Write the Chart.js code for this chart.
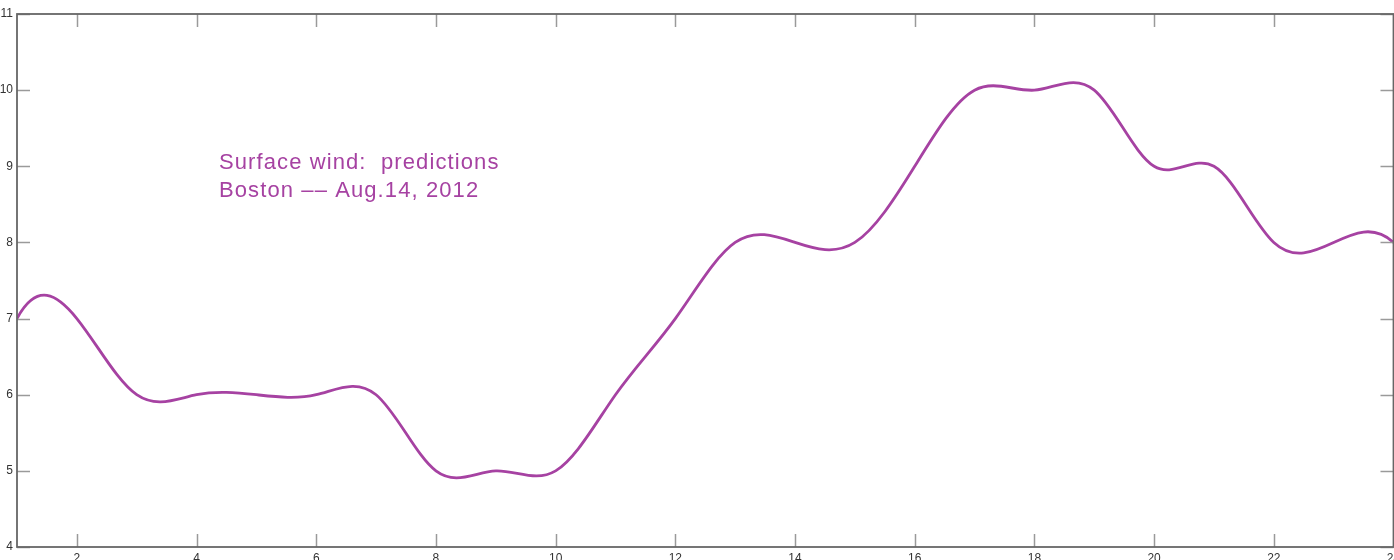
<!DOCTYPE html>
<html>
<head>
<meta charset="utf-8">
<script src="https://cdn.jsdelivr.net/npm/chart.js@4.4.1/dist/chart.umd.min.js"></script>
<style>
  html, body { margin: 0; padding: 0; background: #fff; overflow: hidden; }
  #wrap { width: 1394px; height: 560px; overflow: hidden; position: relative; }
  #c { position: absolute; left: 0; top: 0; }
</style>
</head>
<body>
<div id="wrap"><canvas id="c" width="1400" height="570"></canvas></div>
<script>
// Hourly surface wind predictions, Boston, Aug. 14 2012
const hours = [1, 2, 3, 4, 5, 6, 7, 8, 9, 10, 11, 12, 13, 14, 15, 16, 17, 18, 19, 20, 21, 22, 23, 24];
const windSpeed = [7, 7, 6, 6, 6, 6, 6, 5, 5, 5, 6, 7, 8, 8, 8, 9, 10, 10, 10, 9, 9, 8, 8, 8];
const xTickValues = [2, 4, 6, 8, 10, 12, 14, 16, 18, 20, 22, 24];
const yTickValues = [4, 5, 6, 7, 8, 9, 10, 11];
const titleLines = ['Surface wind:  predictions', 'Boston \u2013\u2013 Aug.14, 2012'];
const titleAnchor = { x: 4.375, y: 8.97 };

const curveColor = 'rgb(166, 66, 162)';
const frameColor = '#666666';
const tickColor = '#9a9a9a';

// Not-a-knot cubic spline: returns the first derivative at each knot
function splineSlopes(x, y) {
  const n = x.length;
  const h = [];
  for (let i = 0; i < n - 1; i++) h.push(x[i + 1] - x[i]);
  const A = [], b = [];
  for (let r = 0; r < n; r++) { A.push(new Array(n).fill(0)); b.push(0); }
  A[0][0] = h[1]; A[0][1] = -(h[0] + h[1]); A[0][2] = h[0];
  for (let i = 1; i < n - 1; i++) {
    A[i][i - 1] = h[i - 1];
    A[i][i] = 2 * (h[i - 1] + h[i]);
    A[i][i + 1] = h[i];
    b[i] = 6 * ((y[i + 1] - y[i]) / h[i] - (y[i] - y[i - 1]) / h[i - 1]);
  }
  A[n - 1][n - 3] = h[n - 2]; A[n - 1][n - 2] = -(h[n - 3] + h[n - 2]); A[n - 1][n - 1] = h[n - 3];
  // Gaussian elimination with partial pivoting
  for (let k = 0; k < n; k++) {
    let p = k;
    for (let r = k + 1; r < n; r++) if (Math.abs(A[r][k]) > Math.abs(A[p][k])) p = r;
    [A[k], A[p]] = [A[p], A[k]]; [b[k], b[p]] = [b[p], b[k]];
    for (let r = k + 1; r < n; r++) {
      const f = A[r][k] / A[k][k];
      if (!f) continue;
      for (let c = k; c < n; c++) A[r][c] -= f * A[k][c];
      b[r] -= f * b[k];
    }
  }
  const M = new Array(n).fill(0);
  for (let k = n - 1; k >= 0; k--) {
    let s = b[k];
    for (let c = k + 1; c < n; c++) s -= A[k][c] * M[c];
    M[k] = s / A[k][k];
  }
  const m = [];
  for (let i = 0; i < n - 1; i++) m.push((y[i + 1] - y[i]) / h[i] - h[i] * (2 * M[i] + M[i + 1]) / 6);
  m.push((y[n - 1] - y[n - 2]) / h[n - 2] + h[n - 2] * (M[n - 2] + 2 * M[n - 1]) / 6);
  return m;
}

// Replace the line's Bezier handles with those of the cubic spline
const splinePlugin = {
  id: 'cubicSpline',
  beforeDatasetDraw(chart, args) {
    const meta = args.meta;
    const line = meta.dataset;
    const pts = meta.data;
    const xs = chart.scales.x, ys = chart.scales.y;
    line.updateControlPoints(chart.chartArea, 'x');
    const m = splineSlopes(hours, windSpeed);
    pts.forEach((p, i) => {
      const hl = i > 0 ? (hours[i] - hours[i - 1]) / 3 : 1 / 3;
      const hr = i < hours.length - 1 ? (hours[i + 1] - hours[i]) / 3 : 1 / 3;
      p.cp1x = xs.getPixelForValue(hours[i] - hl);
      p.cp1y = ys.getPixelForValue(windSpeed[i] - m[i] * hl);
      p.cp2x = xs.getPixelForValue(hours[i] + hr);
      p.cp2y = ys.getPixelForValue(windSpeed[i] + m[i] * hr);
    });
    line._path = undefined;
  }
};

// Box frame with inward tick marks on all four sides, plus the title text
const framePlugin = {
  id: 'boxFrame',
  afterDraw(chart) {
    const { ctx, chartArea: a } = chart;
    const xs = chart.scales.x, ys = chart.scales.y;
    const tl = 13;
    ctx.save();
    ctx.lineWidth = 1.5;
    ctx.strokeStyle = tickColor;
    ctx.beginPath();
    xTickValues.forEach(v => {
      const px = Math.round(xs.getPixelForValue(v)) + 0.5;
      ctx.moveTo(px, a.bottom); ctx.lineTo(px, a.bottom - tl);
      ctx.moveTo(px, a.top); ctx.lineTo(px, a.top + tl);
    });
    yTickValues.forEach(v => {
      const py = Math.round(ys.getPixelForValue(v)) + 0.5;
      ctx.moveTo(a.left, py); ctx.lineTo(a.left + tl, py);
      ctx.moveTo(a.right, py); ctx.lineTo(a.right - tl, py);
    });
    ctx.stroke();
    ctx.strokeStyle = frameColor;
    ctx.lineWidth = 1.8;
    ctx.strokeRect(a.left, a.top, a.right - a.left, a.bottom - a.top);

    ctx.fillStyle = curveColor;
    ctx.font = '22px "Liberation Sans", Arial, sans-serif';
    if ('letterSpacing' in ctx) ctx.letterSpacing = '1.1px';
    ctx.textAlign = 'left';
    ctx.textBaseline = 'alphabetic';
    const tx = xs.getPixelForValue(titleAnchor.x);
    const ty = ys.getPixelForValue(titleAnchor.y);
    titleLines.forEach((t, i) => ctx.fillText(t, tx, ty + i * 28));
    ctx.restore();
  }
};

new Chart(document.getElementById('c'), {
  type: 'line',
  data: {
    datasets: [{
      data: hours.map((h, i) => ({ x: h, y: windSpeed[i] })),
      borderColor: curveColor,
      borderWidth: 2.8,
      pointRadius: 0,
      tension: 0.4,
      fill: false
    }]
  },
  options: {
    responsive: false,
    animation: false,
    events: [],
    layout: { padding: { top: 14, right: 6.5, left: 0, bottom: 0 } },
    plugins: { legend: { display: false }, tooltip: { enabled: false } },
    scales: {
      x: {
        type: 'linear',
        min: 1,
        max: 24,
        grid: { display: false, drawTicks: false },
        border: { display: false },
        afterBuildTicks: s => { s.ticks = xTickValues.map(v => ({ value: v })); },
        afterFit: s => { s.height = 23; s.paddingLeft = 0; s.paddingRight = 0; },
        ticks: {
          padding: 4,
          maxRotation: 0,
          color: '#333',
          font: { family: '"Liberation Sans", Arial, sans-serif', size: 12 }
        }
      },
      y: {
        type: 'linear',
        min: 4,
        max: 11,
        grid: { display: false, drawTicks: false },
        border: { display: false },
        afterBuildTicks: s => { s.ticks = yTickValues.map(v => ({ value: v })); },
        afterFit: s => { s.width = 17; s.paddingTop = 0; s.paddingBottom = 0; },
        ticks: {
          padding: 4,
          color: '#333',
          font: { family: '"Liberation Sans", Arial, sans-serif', size: 12 }
        }
      }
    }
  },
  plugins: [splinePlugin, framePlugin]
});
</script>
</body>
</html>
